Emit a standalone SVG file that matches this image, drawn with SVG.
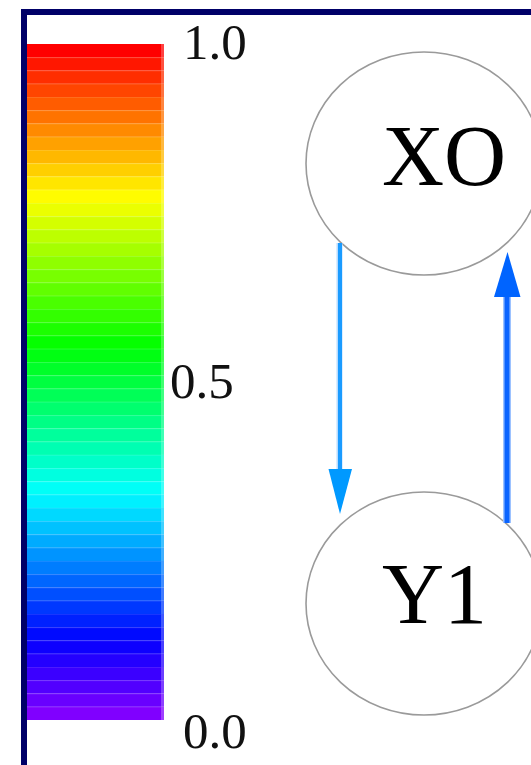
<svg xmlns="http://www.w3.org/2000/svg" width="531" height="765" viewBox="0 0 531 765">
<style>
.lbl{font-family:"Liberation Serif","Times New Roman",serif;font-size:51px;fill:#111}
.ntxt{font-family:"Liberation Serif","Times New Roman",serif;font-size:86px;fill:#000}
.node{fill:#fff;stroke:#9a9a9a;stroke-width:1.6}
.seam{stroke:#fff;stroke-opacity:0.1;stroke-width:1}
</style>
<rect x="0" y="0" width="531" height="765" fill="#fff"/>
<rect x="24" y="12" width="620" height="820" fill="#fff" stroke="#000068" stroke-width="6"/>
<g id="colorbar">
<rect x="27" y="44" width="137" height="13.3" fill="hsl(0,100%,50%)"/>
<rect x="27" y="57.26" width="137" height="13.3" fill="hsl(5.4,100%,50%)"/>
<rect x="27" y="70.51" width="137" height="13.3" fill="hsl(10.8,100%,50%)"/>
<rect x="27" y="83.77" width="137" height="13.3" fill="hsl(16.2,100%,50%)"/>
<rect x="27" y="97.02" width="137" height="13.3" fill="hsl(21.6,100%,50%)"/>
<rect x="27" y="110.28" width="137" height="13.3" fill="hsl(27,100%,50%)"/>
<rect x="27" y="123.53" width="137" height="13.3" fill="hsl(32.4,100%,50%)"/>
<rect x="27" y="136.79" width="137" height="13.3" fill="hsl(37.8,100%,50%)"/>
<rect x="27" y="150.04" width="137" height="13.3" fill="hsl(43.2,100%,50%)"/>
<rect x="27" y="163.30" width="137" height="13.3" fill="hsl(48.6,100%,50%)"/>
<rect x="27" y="176.55" width="137" height="13.3" fill="hsl(54,100%,50%)"/>
<rect x="27" y="189.81" width="137" height="13.3" fill="hsl(59.4,100%,50%)"/>
<rect x="27" y="203.06" width="137" height="13.3" fill="hsl(64.8,100%,50%)"/>
<rect x="27" y="216.32" width="137" height="13.3" fill="hsl(70.2,100%,50%)"/>
<rect x="27" y="229.57" width="137" height="13.3" fill="hsl(75.6,100%,50%)"/>
<rect x="27" y="242.83" width="137" height="13.3" fill="hsl(81,100%,50%)"/>
<rect x="27" y="256.08" width="137" height="13.3" fill="hsl(86.4,100%,50%)"/>
<rect x="27" y="269.34" width="137" height="13.3" fill="hsl(91.8,100%,50%)"/>
<rect x="27" y="282.59" width="137" height="13.3" fill="hsl(97.2,100%,50%)"/>
<rect x="27" y="295.85" width="137" height="13.3" fill="hsl(102.6,100%,50%)"/>
<rect x="27" y="309.10" width="137" height="13.3" fill="hsl(108,100%,50%)"/>
<rect x="27" y="322.36" width="137" height="13.3" fill="hsl(113.4,100%,50%)"/>
<rect x="27" y="335.61" width="137" height="13.3" fill="hsl(118.8,100%,50%)"/>
<rect x="27" y="348.87" width="137" height="13.3" fill="hsl(124.2,100%,50%)"/>
<rect x="27" y="362.12" width="137" height="13.3" fill="hsl(129.6,100%,50%)"/>
<rect x="27" y="375.38" width="137" height="13.3" fill="hsl(135,100%,50%)"/>
<rect x="27" y="388.63" width="137" height="13.3" fill="hsl(140.4,100%,50%)"/>
<rect x="27" y="401.89" width="137" height="13.3" fill="hsl(145.8,100%,50%)"/>
<rect x="27" y="415.14" width="137" height="13.3" fill="hsl(151.2,100%,50%)"/>
<rect x="27" y="428.40" width="137" height="13.3" fill="hsl(156.6,100%,50%)"/>
<rect x="27" y="441.65" width="137" height="13.3" fill="hsl(162,100%,50%)"/>
<rect x="27" y="454.91" width="137" height="13.3" fill="hsl(167.4,100%,50%)"/>
<rect x="27" y="468.16" width="137" height="13.3" fill="hsl(172.8,100%,50%)"/>
<rect x="27" y="481.42" width="137" height="13.3" fill="hsl(178.2,100%,50%)"/>
<rect x="27" y="494.67" width="137" height="13.3" fill="hsl(183.6,100%,50%)"/>
<rect x="27" y="507.93" width="137" height="13.3" fill="hsl(189,100%,50%)"/>
<rect x="27" y="521.18" width="137" height="13.3" fill="hsl(194.4,100%,50%)"/>
<rect x="27" y="534.44" width="137" height="13.3" fill="hsl(199.8,100%,50%)"/>
<rect x="27" y="547.69" width="137" height="13.3" fill="hsl(205.2,100%,50%)"/>
<rect x="27" y="560.95" width="137" height="13.3" fill="hsl(210.6,100%,50%)"/>
<rect x="27" y="574.20" width="137" height="13.3" fill="hsl(216,100%,50%)"/>
<rect x="27" y="587.46" width="137" height="13.3" fill="hsl(221.4,100%,50%)"/>
<rect x="27" y="600.71" width="137" height="13.3" fill="hsl(226.8,100%,50%)"/>
<rect x="27" y="613.97" width="137" height="13.3" fill="hsl(232.2,100%,50%)"/>
<rect x="27" y="627.22" width="137" height="13.3" fill="hsl(237.6,100%,50%)"/>
<rect x="27" y="640.48" width="137" height="13.3" fill="hsl(243,100%,50%)"/>
<rect x="27" y="653.73" width="137" height="13.3" fill="hsl(248.4,100%,50%)"/>
<rect x="27" y="666.99" width="137" height="13.3" fill="hsl(253.8,100%,50%)"/>
<rect x="27" y="680.24" width="137" height="13.3" fill="hsl(259.2,100%,50%)"/>
<rect x="27" y="693.50" width="137" height="13.3" fill="hsl(264.6,100%,50%)"/>
<rect x="27" y="706.75" width="137" height="13.25" fill="hsl(270,100%,50%)"/>
<rect x="161" y="44" width="3" height="676" fill="#fff" fill-opacity="0.25"/>
<path class="seam" d="M27,57.76H161M27,71.01H161M27,84.27H161M27,97.52H161M27,110.78H161M27,124.03H161M27,137.29H161M27,150.54H161M27,163.8H161M27,177.05H161M27,190.31H161M27,203.56H161M27,216.82H161M27,230.07H161M27,243.33H161M27,256.58H161M27,269.84H161M27,283.09H161M27,296.35H161M27,309.6H161M27,322.86H161M27,336.11H161M27,349.37H161M27,362.62H161M27,375.88H161M27,389.13H161M27,402.39H161M27,415.64H161M27,428.9H161M27,442.15H161M27,455.41H161M27,468.66H161M27,481.92H161M27,495.17H161M27,508.43H161M27,521.68H161M27,534.94H161M27,548.19H161M27,561.45H161M27,574.7H161M27,587.96H161M27,601.21H161M27,614.47H161M27,627.72H161M27,640.98H161M27,654.23H161M27,667.49H161M27,680.74H161M27,694H161M27,707.25H161"/>
<text class="lbl" x="183" y="59">1.0</text>
<text class="lbl" x="170" y="398">0.5</text>
<text class="lbl" x="183" y="748">0.0</text>
</g>
<g id="node-X0">
<ellipse class="node" cx="424" cy="163.5" rx="118" ry="111.5"/>
<text class="ntxt" x="382" y="185">XO</text>
</g>
<g id="node-Y1">
<ellipse class="node" cx="424" cy="603.5" rx="118" ry="111.5"/>
<text class="ntxt" x="382" y="623">Y1</text>
</g>
<g id="connectors">
<g id="edge-X0-Y1">
<line x1="339.5" y1="243" x2="339.5" y2="472" stroke="#b8dcff" stroke-width="6"/>
<line x1="340" y1="243" x2="340" y2="472" stroke="#1a9bff" stroke-width="4"/>
<polygon points="328.5,469 352,469 340,514" fill="#0099ff"/>
</g>
<g id="edge-Y1-X0">
<line x1="507" y1="523" x2="507" y2="296" stroke="#9cc2ff" stroke-width="8"/>
<line x1="507" y1="523" x2="507" y2="296" stroke="#0a64ff" stroke-width="5"/>
<polygon points="494,297 520.5,297 507.5,252" fill="#0064ff"/>
</g>
</g>
</svg>
